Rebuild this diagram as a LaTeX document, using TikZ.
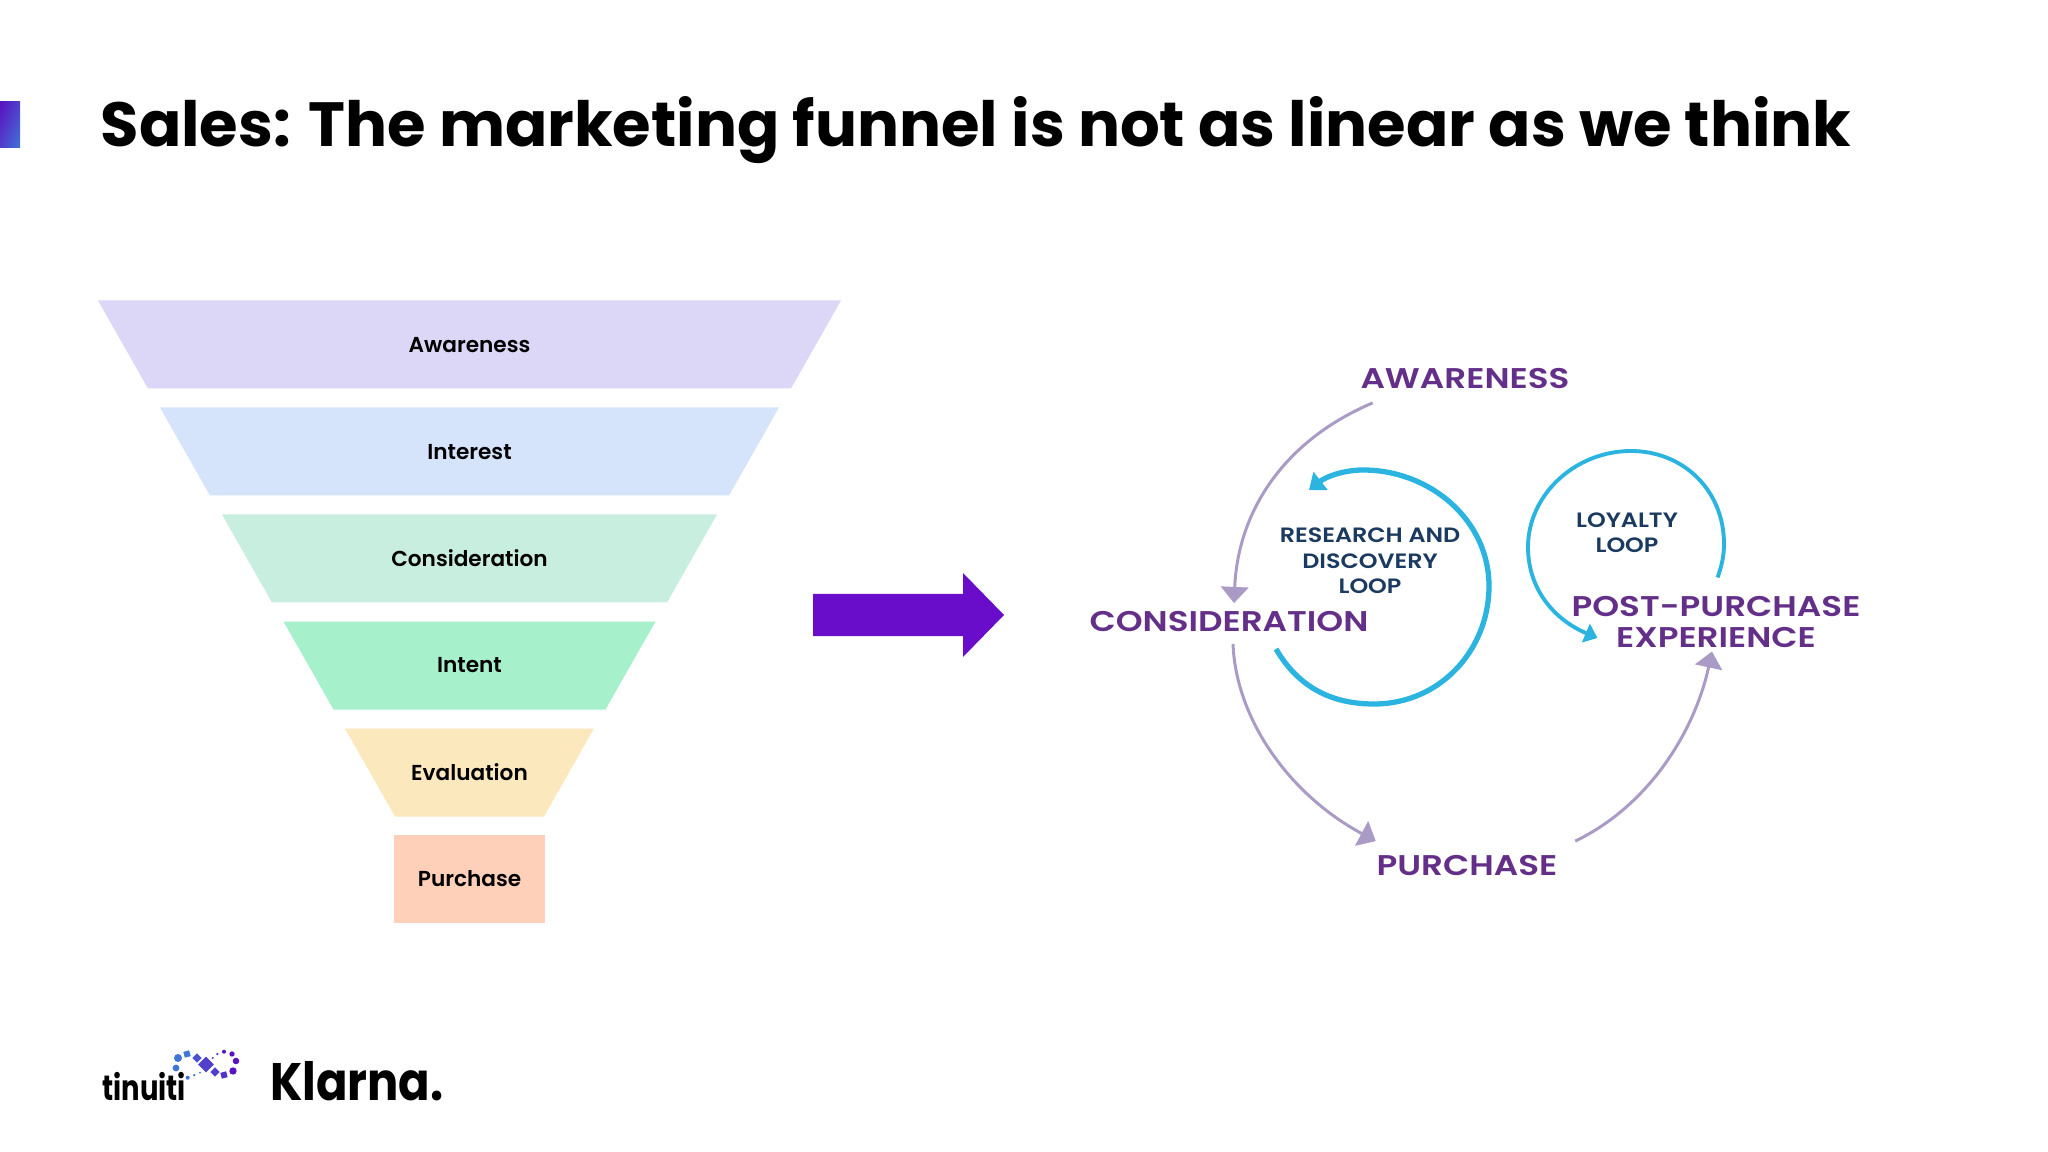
\documentclass[tikz,border=0pt]{standalone}
\usepackage{fontspec}
\usepackage{tikz}
\usetikzlibrary{arrows.meta}
\usetikzlibrary{shadings}
\setmainfont{Poppins}
\newfontfamily\bandfont{Poppins SemiBold}
\newfontfamily\loopfont{Poppins SemiBold}

\definecolor{bandAwareness}{HTML}{DCD6F7}
\definecolor{bandInterest}{HTML}{D5E3FB}
\definecolor{bandConsideration}{HTML}{C8EEDF}
\definecolor{bandIntent}{HTML}{A6F0CC}
\definecolor{bandEvaluation}{HTML}{FCE8BD}
\definecolor{bandPurchase}{HTML}{FFD0B9}
\definecolor{bigArrow}{HTML}{6A0DCB}
\definecolor{stagePurple}{HTML}{642F88}
\definecolor{arcPurple}{HTML}{AA9BC6}
\definecolor{loopBlue}{HTML}{2BB4E0}
\definecolor{loopNavy}{HTML}{1B3A60}
\definecolor{logoBlue}{HTML}{3F74D8}
\definecolor{logoMid}{HTML}{5040CC}
\definecolor{logoPurple}{HTML}{5A12C0}

\begin{document}
\begin{tikzpicture}[x=0.01cm, y=-0.01cm,
    bandlabel/.style={inner sep=0pt, text=black,
      font=\bandfont\fontsize{6.15}{8}\selectfont},
    stagelabel/.style={inner sep=0pt, align=center, text=stagePurple, xscale=1.2, transform shape,
      font=\loopfont\fontsize{8.1}{8.9}\selectfont},
    looplabel/.style={inner sep=0pt, align=center, text=loopNavy, xscale=1.15, transform shape,
      font=\loopfont\fontsize{5.9}{7.2}\selectfont},
    stagearc/.style={arcPurple, line width=0.85pt, -{Triangle[length=4.6pt, width=7.8pt]}},
    loopthick/.style={loopBlue, line width=1.5pt, -{Triangle[length=4.2pt, width=6.4pt]}},
    loopthin/.style={loopBlue, line width=1.1pt, -{Triangle[length=3.6pt, width=5.6pt]}}]

  % Page and its margins
  \useasboundingbox (0,0) rectangle (2048,1152);
  \fill[white] (0,0) rectangle (2048,1152);

  % Title and the small mark left of it
  \shade[upper left=logoPurple, upper right=logoMid, lower left=logoMid, lower right=logoBlue]
    (0,102) rectangle (20,148);
  \node[anchor=west, inner sep=0pt] (title) at (100,130)
    {\fontsize{17.75}{20}\selectfont\bfseries Sales: The marketing funnel is not as linear as we think};

  % Funnel bands
  \fill[bandAwareness] (98,300.5) -- (841,300.5) -- (791,388.5) -- (148,388.5) -- cycle;
  \fill[bandInterest] (160,407.5) -- (779,407.5) -- (729,495.5) -- (210,495.5) -- cycle;
  \fill[bandConsideration] (222,514.5) -- (717,514.5) -- (667,602.5) -- (272,602.5) -- cycle;
  \fill[bandIntent] (283.5,621.5) -- (655.5,621.5) -- (605.5,709.5) -- (333.5,709.5) -- cycle;
  \fill[bandEvaluation] (345,728.5) -- (594,728.5) -- (544,816.5) -- (395,816.5) -- cycle;

  % Funnel labels
  \node[bandlabel] (awarenessBand) at (469.5,345.5) {Awareness};
  \node[bandlabel] (interestBand) at (469.5,452.5) {Interest};
  \node[bandlabel] (considerationBand) at (469.5,558.5) {Consideration};
  \node[bandlabel] (intentBand) at (469.5,665.5) {Intent};
  \node[bandlabel] (evaluationBand) at (469.5,772.5) {Evaluation};
  \node[bandlabel, fill=bandPurchase, minimum width=1.51cm, minimum height=0.88cm] (purchaseBand) at (469.5,879) {Purchase};

  % Big arrow between the two halves
  \fill[bigArrow] (813,594) -- (963,594) -- (963,573) -- (1004,615) -- (963,657) -- (963,636) -- (813,636) -- cycle;

  % Stage labels
  \node[stagelabel] (awareness) at (1465,379) {AWARENESS};
  \node[stagelabel] (consideration) at (1229,622) {CONSIDERATION};
  \node[stagelabel] (purchase) at (1467,866) {PURCHASE};
  \node[stagelabel] (postpurchase) at (1716,622) {POST-PURCHASE\\EXPERIENCE};

  % Loop labels
  \node[looplabel] (research) at (1370,561) {RESEARCH AND\\DISCOVERY\\LOOP};
  \node[looplabel] (loyalty) at (1627,533) {LOYALTY\\LOOP};

  % Ends of the blue loops
  \coordinate (researchStart) at (1276,649);
  \coordinate (researchEnd) at (1309,490);
  \coordinate (loyaltyStart) at (1717.6,577.5);
  \coordinate (loyaltyEnd) at (1597.5,638);

  % Purple arcs between the stages
  \draw[stagearc] ([shift={(0.13cm,-0.13cm)}]awareness.south west) .. controls (1285,440) and (1238,510) .. ([shift={(0.05cm,0.08cm)}]consideration.north);
  \draw[stagearc] ([shift={(0.04cm,-0.11cm)}]consideration.south) .. controls (1236,720) and (1290,795) .. ([shift={(0cm,0.14cm)}]purchase.north west);
  \draw[stagearc] ([shift={(0.17cm,0.14cm)}]purchase.north east) .. controls (1650,805) and (1695,730) .. ([shift={(-0.04cm,-0.03cm)}]postpurchase.south);

  % Blue loops
  \draw[loopthick] (researchStart) .. controls (1300,690) and (1335,704) .. (1374,704)
    .. controls (1440,704) and (1489,650) .. (1489,586)
    .. controls (1489,520) and (1430,470) .. (1363,470)
    .. controls (1345,470) and (1327,476) .. (researchEnd);
  \draw[loopthin] (loyaltyStart) .. controls (1722,565) and (1724,555) .. (1724,544)
    .. controls (1724,490) and (1683,451) .. (1631,451)
    .. controls (1575,451) and (1528,495) .. (1528,547)
    .. controls (1528,590) and (1555,620) .. (loyaltyEnd);

  % Tinuiti logo
  \node[anchor=west, inner sep=0pt, xscale=0.78, transform shape, font=\fontsize{10}{10}\selectfont\bfseries] (tinuiti) at (102,1087) {tinuiti};
  \fill[logoBlue] (178,1058) circle (4);
  \fill[logoBlue] (176,1068) circle (3.4);
  \fill[logoBlue, rotate around={15:(187,1054)}] (184,1051) rectangle (190,1057);
  \fill[logoMid!70!logoBlue, rotate around={45:(197,1058)}] (193.7,1054.7) rectangle (200.3,1061.3);
  \fill[logoMid, rotate around={45:(206,1064.5)}] (200.5,1059) rectangle (211.5,1070);
  \fill[logoMid, rotate around={45:(215,1072)}] (211.7,1068.7) rectangle (218.3,1075.3);
  \fill[logoMid!70!logoPurple, rotate around={15:(224,1075)}] (221,1072) rectangle (227,1078);
  \fill[logoPurple] (233,1071) circle (3.7);
  \fill[logoPurple] (236,1061) circle (3.3);
  \fill[logoPurple] (232,1054) circle (2.7);
  \fill[logoPurple] (224,1051.7) circle (2);
  \fill[logoMid] (217.3,1054) circle (1.3);
  \fill[logoMid] (212.7,1058) circle (1.1);
  \fill[logoBlue] (200,1072.7) circle (1);
  \fill[logoBlue] (194.3,1075) circle (1.3);
  \fill[logoBlue] (187.7,1077.7) circle (2);

  % Klarna logo
  \node[anchor=west, inner sep=0pt, xscale=0.88, transform shape, font=\fontsize{15}{16}\selectfont\bfseries] (klarna) at (269.5,1081) {Klarna.};

\end{tikzpicture}
\end{document}
